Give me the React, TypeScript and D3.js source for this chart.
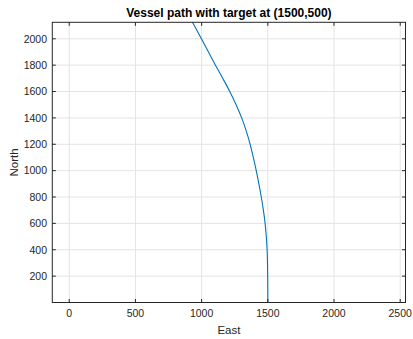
import React from "react";
import * as d3 from "d3";

// Vessel track: north coordinate and matching east coordinate
const northValues = [0, 100, 200, 300, 400, 500, 600, 700, 800, 900, 1000, 1100, 1200, 1300, 1400, 1500, 1600, 1700, 1800, 1900, 2000, 2100, 2200];
const eastValues = [1500, 1499.7, 1499, 1497.5, 1494.5, 1488.5, 1479.5, 1466.5, 1450.5, 1432.5, 1412.5, 1390.5, 1366.5, 1337.5, 1302.5, 1260.5, 1212.5, 1159.5, 1104.5, 1051.5, 998.5, 944.5, 889.5];

const xTicks = [0, 500, 1000, 1500, 2000, 2500];
const yTicks = [200, 400, 600, 800, 1000, 1200, 1400, 1600, 1800, 2000];
const xDomain = [-128, 2540];
const yDomain = [0, 2125];

const W = 413;
const H = 339;
const M = { left: 52.3, right: 405.5, top: 22.3, bottom: 302.5 };

const AXIS = "#262626";
const GRID = "#e3e3e3";
const LINE = "#0072BD";
const FONT = "'Liberation Sans', Arial, Helvetica, sans-serif";

export default function App() {
  const x = d3.scaleLinear().domain(xDomain).range([M.left, M.right]);
  const y = d3.scaleLinear().domain(yDomain).range([M.bottom, M.top]);
  const pts: [number, number][] = northValues.map((n, i) => [eastValues[i], n]);
  const path = d3
    .line<[number, number]>()
    .x((d) => x(d[0]))
    .y((d) => y(d[1]))
    .curve(d3.curveCatmullRom.alpha(0.5))(pts) as string;
  const tl = 3.5;
  const pw = M.right - M.left;
  const ph = M.bottom - M.top;
  return (
    <svg
      width={W}
      height={H}
      style={{ position: "absolute", left: 0, top: 0, background: "#fff" }}
      fontFamily={FONT}
    >
      <defs>
        <clipPath id="plotClip">
          <rect x={M.left} y={M.top} width={pw} height={ph} />
        </clipPath>
      </defs>
      <rect x={M.left} y={M.top} width={pw} height={ph} fill="#fff" />
      {xTicks.map((t) => (
        <line key={"gx" + t} x1={x(t)} x2={x(t)} y1={M.top} y2={M.bottom} stroke={GRID} strokeWidth={1} />
      ))}
      {yTicks.map((t) => (
        <line key={"gy" + t} x1={M.left} x2={M.right} y1={y(t)} y2={y(t)} stroke={GRID} strokeWidth={1} />
      ))}
      <path d={path} fill="none" stroke={LINE} strokeWidth={1.1} clipPath="url(#plotClip)" />
      <rect x={M.left} y={M.top} width={pw} height={ph} fill="none" stroke={AXIS} strokeWidth={1} />
      {xTicks.map((t) => (
        <g key={"tx" + t}>
          <line x1={x(t)} x2={x(t)} y1={M.bottom} y2={M.bottom - tl} stroke={AXIS} />
          <line x1={x(t)} x2={x(t)} y1={M.top} y2={M.top + tl} stroke={AXIS} />
          <text x={x(t)} y={317} textAnchor="middle" fontSize={10.5} fill={AXIS}>
            {t}
          </text>
        </g>
      ))}
      {yTicks.map((t) => (
        <g key={"ty" + t}>
          <line x1={M.left} x2={M.left + tl} y1={y(t)} y2={y(t)} stroke={AXIS} />
          <line x1={M.right} x2={M.right - tl} y1={y(t)} y2={y(t)} stroke={AXIS} />
          <text x={47} y={y(t) + 3.8} textAnchor="end" fontSize={10.5} fill={AXIS}>
            {t}
          </text>
        </g>
      ))}
      <text x={(M.left + M.right) / 2} y={334} textAnchor="middle" fontSize={11.5} fill={AXIS}>
        East
      </text>
      <text
        transform={`translate(18, ${(M.top + M.bottom) / 2}) rotate(-90)`}
        textAnchor="middle"
        fontSize={11.5}
        fill={AXIS}
      >
        North
      </text>
      <text x={(M.left + M.right) / 2} y={17} textAnchor="middle" fontSize={12} fontWeight="bold" fill="#000">
        Vessel path with target at (1500,500)
      </text>
    </svg>
  );
}
